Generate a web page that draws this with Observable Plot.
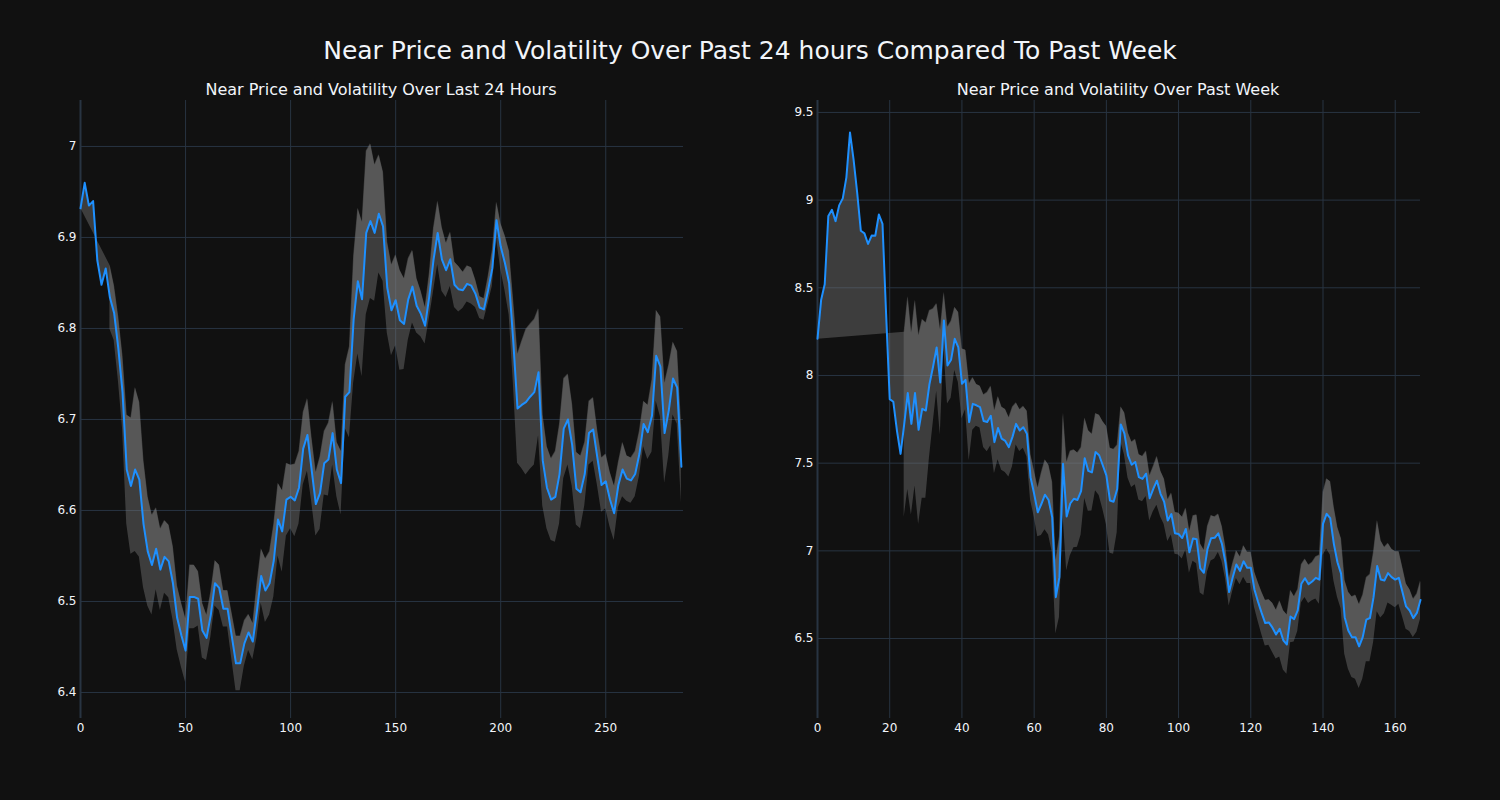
<!DOCTYPE html>
<html>
<head>
<meta charset="utf-8">
<script src="https://cdn.jsdelivr.net/npm/d3@7"></script>
<script src="https://cdn.jsdelivr.net/npm/@observablehq/plot@0.6"></script>
<style>
  html, body { margin: 0; padding: 0; background: #111111; }
  #wrap { position: relative; width: 1500px; height: 800px; background: #111111; font-family: "DejaVu Sans", Verdana, sans-serif; color: #f2f5fa; overflow: hidden; }
  .ttl { position: absolute; white-space: nowrap; transform: translate(-50%, -50%); }
  .panel { position: absolute; top: 0; }
</style>
</head>
<body>
<div id="wrap">
  <div class="ttl" id="mainTitle" style="left:750px; top:50px; font-size:25px;"></div>
  <div class="ttl" id="leftTitle" style="left:381px; top:89px; font-size:16px;"></div>
  <div class="ttl" id="rightTitle" style="left:1118px; top:89px; font-size:16px;"></div>
  <div class="panel" id="leftPanel" style="left:0px;"></div>
  <div class="panel" id="rightPanel" style="left:740px;"></div>
</div>
<script>
// ---------- texts ----------
const mainTitleText = "Near Price and Volatility Over Past 24 hours Compared To Past Week";
const dayTitleText = "Near Price and Volatility Over Last 24 Hours";
const weekTitleText = "Near Price and Volatility Over Past Week";

// ---------- last 24 hours (one value every 2 steps: index 0,2,4,...,286) ----------
const dayStep = 2;
const dayPrice = [
  6.932, 6.960, 6.935, 6.940, 6.875, 6.848, 6.866, 6.834, 6.817, 6.778,
  6.730, 6.645, 6.627, 6.645, 6.634, 6.585, 6.555, 6.540, 6.558, 6.535,
  6.549, 6.544, 6.520, 6.482, 6.463, 6.446, 6.505, 6.505, 6.503, 6.468,
  6.460, 6.485, 6.520, 6.515, 6.492, 6.492, 6.462, 6.432, 6.432, 6.454,
  6.466, 6.456, 6.490, 6.528, 6.512, 6.520, 6.545, 6.590, 6.577, 6.612,
  6.615, 6.611, 6.625, 6.668, 6.683, 6.645, 6.607, 6.619, 6.652, 6.656,
  6.685, 6.645, 6.630, 6.725, 6.730, 6.810, 6.852, 6.832, 6.905, 6.918,
  6.905, 6.926, 6.912, 6.845, 6.820, 6.831, 6.809, 6.805, 6.832, 6.846,
  6.825, 6.816, 6.803, 6.835, 6.875, 6.905, 6.876, 6.864, 6.876, 6.848,
  6.843, 6.842, 6.849, 6.847, 6.838, 6.823, 6.821, 6.842, 6.866, 6.919,
  6.890, 6.872, 6.850, 6.785, 6.712, 6.716, 6.719, 6.725, 6.730, 6.752,
  6.655, 6.625, 6.612, 6.615, 6.640, 6.690, 6.700, 6.672, 6.624, 6.620,
  6.640, 6.685, 6.689, 6.658, 6.628, 6.632, 6.612, 6.597, 6.628, 6.645,
  6.635, 6.633, 6.640, 6.662, 6.695, 6.686, 6.704, 6.770, 6.758, 6.685,
  6.710, 6.745, 6.735, 6.648
];
const dayStd = [
  null, null, null, null, null, null, null, 0.035, 0.030, 0.035,
  0.040, 0.060, 0.075, 0.090, 0.085, 0.070, 0.060, 0.055, 0.045, 0.045,
  0.040, 0.040, 0.040, 0.035, 0.035, 0.035, 0.035, 0.035, 0.030, 0.030,
  0.025, 0.025, 0.025, 0.025, 0.020, 0.020, 0.025, 0.030, 0.030, 0.025,
  0.020, 0.020, 0.030, 0.030, 0.035, 0.035, 0.040, 0.040, 0.045, 0.040,
  0.035, 0.040, 0.040, 0.040, 0.040, 0.035, 0.035, 0.040, 0.035, 0.040,
  0.035, 0.030, 0.035, 0.035, 0.050, 0.070, 0.080, 0.085, 0.090, 0.085,
  0.075, 0.065, 0.060, 0.050, 0.050, 0.050, 0.055, 0.050, 0.045, 0.040,
  0.030, 0.025, 0.020, 0.025, 0.035, 0.035, 0.035, 0.030, 0.030, 0.025,
  0.025, 0.020, 0.020, 0.020, 0.015, 0.012, 0.012, 0.015, 0.020, 0.020,
  0.025, 0.030, 0.035, 0.045, 0.060, 0.070, 0.080, 0.080, 0.080, 0.070,
  0.050, 0.045, 0.045, 0.050, 0.055, 0.055, 0.050, 0.045, 0.040, 0.040,
  0.035, 0.035, 0.035, 0.030, 0.030, 0.030, 0.030, 0.030, 0.025, 0.030,
  0.025, 0.025, 0.025, 0.025, 0.025, 0.030, 0.040, 0.050, 0.055, 0.055,
  0.050, 0.040, 0.040, 0.040
];
const dayXTicks = [0, 50, 100, 150, 200, 250];
const dayYTicks = [6.4, 6.5, 6.6, 6.7, 6.8, 6.9, 7];

// ---------- past week (hourly, index 0..167) ----------
const weekPrice = [
  8.210, 8.430, 8.520, 8.910, 8.945, 8.880, 8.970, 9.010, 9.130, 9.385,
  9.230, 9.040, 8.825, 8.810, 8.750, 8.798, 8.797, 8.918, 8.865, 8.350,
  7.865, 7.850, 7.686, 7.553, 7.720, 7.900, 7.724, 7.900, 7.690, 7.810,
  7.800, 7.950, 8.050, 8.160, 7.960, 8.314, 8.057, 8.090, 8.209, 8.160,
  7.953, 7.975, 7.734, 7.838, 7.830, 7.820, 7.740, 7.735, 7.770, 7.620,
  7.700, 7.640, 7.627, 7.591, 7.650, 7.724, 7.686, 7.705, 7.667, 7.420,
  7.325, 7.220, 7.267, 7.320, 7.290, 7.192, 6.736, 6.850, 7.496, 7.196,
  7.270, 7.297, 7.290, 7.340, 7.528, 7.456, 7.447, 7.563, 7.545, 7.488,
  7.430, 7.287, 7.280, 7.353, 7.721, 7.668, 7.544, 7.491, 7.507, 7.420,
  7.410, 7.440, 7.300, 7.353, 7.400, 7.325, 7.280, 7.173, 7.210, 7.100,
  7.096, 7.073, 7.125, 6.992, 7.070, 7.066, 6.900, 6.875, 7.010, 7.072,
  7.074, 7.100, 7.040, 6.930, 6.765, 6.850, 6.922, 6.886, 6.940, 6.904,
  6.904, 6.780, 6.710, 6.646, 6.588, 6.592, 6.562, 6.523, 6.555, 6.490,
  6.466, 6.626, 6.610, 6.660, 6.812, 6.844, 6.810, 6.825, 6.846, 6.836,
  7.154, 7.211, 7.186, 7.040, 6.935, 6.870, 6.622, 6.546, 6.508, 6.508,
  6.455, 6.508, 6.608, 6.617, 6.736, 6.913, 6.837, 6.831, 6.873, 6.850,
  6.836, 6.846, 6.765, 6.683, 6.660, 6.616, 6.646, 6.720
];
const weekStd = [
  null, null, null, null, null, null, null, null, null, null,
  null, null, null, null, null, null, null, null, null, null,
  null, null, null, null, 0.53, 0.55, 0.52, 0.53, 0.54, 0.51,
  0.50, 0.42, 0.33, 0.25, 0.30, 0.16, 0.22, 0.22, 0.18, 0.20,
  0.20, 0.17, 0.22, 0.15, 0.12, 0.12, 0.15, 0.17, 0.17, 0.18,
  0.18, 0.18, 0.18, 0.17, 0.17, 0.12, 0.12, 0.12, 0.13, 0.13,
  0.13, 0.14, 0.18, 0.20, 0.20, 0.20, 0.21, 0.23, 0.29, 0.31,
  0.30, 0.28, 0.27, 0.25, 0.23, 0.23, 0.22, 0.22, 0.23, 0.25,
  0.28, 0.30, 0.30, 0.25, 0.10, 0.12, 0.13, 0.13, 0.13, 0.13,
  0.13, 0.13, 0.13, 0.13, 0.14, 0.13, 0.13, 0.12, 0.12, 0.12,
  0.12, 0.12, 0.12, 0.12, 0.13, 0.14, 0.14, 0.13, 0.13, 0.13,
  0.12, 0.11, 0.10, 0.09, 0.08, 0.08, 0.08, 0.08, 0.09, 0.09,
  0.09, 0.10, 0.11, 0.12, 0.13, 0.13, 0.14, 0.14, 0.16, 0.17,
  0.17, 0.15, 0.13, 0.12, 0.11, 0.11, 0.11, 0.11, 0.12, 0.14,
  0.18, 0.20, 0.21, 0.21, 0.20, 0.20, 0.21, 0.22, 0.23, 0.24,
  0.24, 0.24, 0.24, 0.25, 0.26, 0.26, 0.22, 0.19, 0.17, 0.16,
  0.16, 0.15, 0.14, 0.13, 0.12, 0.11, 0.11, 0.11
];
const weekXTicks = [0, 20, 40, 60, 80, 100, 120, 140, 160];
const weekYTicks = [6.5, 7, 7.5, 8, 8.5, 9, 9.5];

// ---------- styling ----------
const lineColor = "#1e90ff";
const bandColor = "#808080";
const bandOpacity = 0.4;
const gridColor = "#283442";
const textColor = "#f2f5fa";

document.getElementById("mainTitle").textContent = mainTitleText;
document.getElementById("leftTitle").textContent = dayTitleText;
document.getElementById("rightTitle").textContent = weekTitleText;

function buildRows(prices, stds, step) {
  return prices.map((p, i) => {
    const s = stds[i];
    return {
      x: i * step,
      p: p,
      s: s,
      lo: s == null ? NaN : p - s,
      hi: s == null ? NaN : p + s
    };
  });
}

// polygon as the original fill draws it: price forward, then upper bound backward
function buildPoly(rows) {
  const fwd = rows.map(d => ({x: d.x, y: d.p}));
  const back = rows.filter(d => d.s != null).slice().reverse().map(d => ({x: d.x, y: d.hi}));
  return fwd.concat(back);
}

function panel(rows, opts) {
  const poly = buildPoly(rows);
  return Plot.plot({
    width: 700,
    height: 800,
    marginTop: 100,
    marginBottom: 82,
    marginLeft: opts.marginLeft,
    marginRight: opts.marginRight,
    style: {background: "transparent", color: textColor, fontSize: "12px", fontFamily: "\"DejaVu Sans\", Verdana, sans-serif"},
    x: {domain: opts.xDomain, ticks: opts.xTicks, tickSize: 0, tickPadding: 5, label: null},
    y: {domain: opts.yDomain, ticks: opts.yTicks, tickSize: 0, tickPadding: 4, tickFormat: d3.format("~g"), label: null},
    marks: [
      Plot.ruleY(opts.yTicks, {stroke: gridColor, strokeWidth: 1}),
      Plot.ruleX(opts.xTicks, {stroke: gridColor, strokeWidth: 1}),
      Plot.ruleX([opts.xDomain[0]], {stroke: gridColor, strokeWidth: 2}),
      Plot.areaY(rows, {x: "x", y1: "lo", y2: "hi", fill: bandColor, fillOpacity: bandOpacity}),
      Plot.line(poly, {x: "x", y: "y", fill: bandColor, fillOpacity: bandOpacity, stroke: "none"}),
      Plot.line(rows, {x: "x", y: "p", stroke: lineColor, strokeWidth: 2})
    ]
  });
}

const dayRows = buildRows(dayPrice, dayStd, dayStep);
const weekRows = buildRows(weekPrice, weekStd, 1);

document.getElementById("leftPanel").appendChild(panel(dayRows, {
  marginLeft: 80, marginRight: 17,
  xDomain: [0, 287], yDomain: [6.3714, 7.0505],
  xTicks: dayXTicks, yTicks: dayYTicks
}));
document.getElementById("rightPanel").appendChild(panel(weekRows, {
  marginLeft: 77, marginRight: 20,
  xDomain: [0, 167], yDomain: [6.044, 9.568],
  xTicks: weekXTicks, yTicks: weekYTicks
}));
</script>
</body>
</html>
